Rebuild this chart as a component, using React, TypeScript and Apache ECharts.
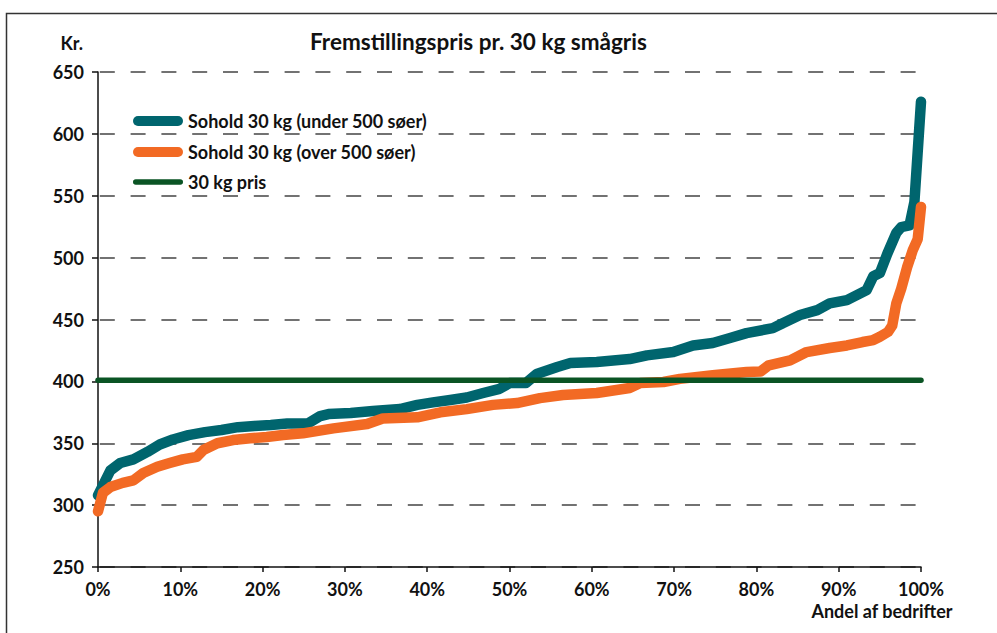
import React, { useEffect, useRef } from "react";
import * as echarts from "echarts";

const titleText = "Fremstillingspris pr. 30 kg smågris";
const yUnit = "Kr.";
const xName = "Andel af bedrifter";
const seriesNames = ["Sohold 30 kg (under 500 søer)", "Sohold 30 kg (over 500 søer)", "30 kg pris"];

// Share of farms (%) and cost (kr.) for farms under 500 sows
const underPct = [0, 1.5, 2.7, 4.3, 6, 7.5, 9.1, 11, 13, 15, 17, 19, 21, 23, 25.5, 27, 28, 30.7, 33.4, 36.7, 38.8, 40.7, 42.8, 44.8, 46.8, 48.8, 50, 52, 53.3, 55.8, 57.4, 60.6, 64.6, 66.7, 69.9, 72.3, 74.7, 76.8, 78.8, 82, 83.2, 85.3, 87.4, 88.9, 91, 92.2, 93.4, 94.2, 95, 95.9, 97, 97.6, 98.6, 99.2, 100];
const underVal = [308, 328, 334, 337, 343, 349, 353, 356.6, 359, 360.7, 363, 364, 364.7, 366, 366, 372, 373.6, 374.5, 376, 377.6, 381, 383, 385, 387, 390.6, 394, 398.6, 398.6, 406, 411.6, 414.8, 415.6, 418, 421, 423.7, 429, 431, 435, 439, 443, 447, 453.6, 457.6, 463, 465.7, 469.7, 473.8, 485, 487.5, 503, 520, 524.7, 526, 545, 626];

// Share of farms (%) and cost (kr.) for farms over 500 sows
const overPct = [0, 0.6, 1.5, 3, 4.3, 5.5, 7.2, 8.7, 10.3, 12, 12.8, 14.5, 16.4, 18.5, 20.5, 22.5, 24.9, 28.6, 32.7, 34.6, 38.8, 41.6, 44.8, 48, 50.9, 53.7, 56.5, 60.6, 64.6, 65.9, 68.7, 70.7, 74.7, 78.8, 80.5, 81.5, 84.1, 86.1, 88.9, 91, 92.9, 94.2, 95, 96, 96.5, 97, 97.6, 98.3, 99, 99.6, 100];
const overVal = [295, 310, 314.6, 318, 320, 326, 331, 334, 337, 339, 344.5, 350, 352.6, 354, 355, 356.6, 358, 362, 365.5, 370, 371, 375, 377.6, 381, 382.5, 386.5, 389, 390.6, 394.6, 398.6, 399.5, 402, 405, 407.5, 408, 413, 417, 423.7, 427, 429, 431.8, 433.4, 436, 440, 445, 463, 475, 492, 506, 515, 541];

// 30 kg price
const pricePct = [0, 100];
const priceVal = [401, 401];

const yTicks = [250, 300, 350, 400, 450, 500, 550, 600, 650];
const xTicks = [0, 10, 20, 30, 40, 50, 60, 70, 80, 90, 100];

const colors = ["#00656e", "#f26a24", "#0a5424"];
const FONT = "Lato";

function zip(xs: number[], ys: number[]) {
  return xs.map((x, i) => [x, ys[i]]);
}

export default function App() {
  const ref = useRef<HTMLDivElement>(null);
  useEffect(() => {
    if (!ref.current) return;
    const chart = echarts.init(ref.current, undefined, { renderer: "svg" });
    const txt = { color: "#111", fontFamily: FONT, fontSize: 18, fontWeight: "bold" as const };
    const pill = "path://M5,0 L45,0 A5,5 0 0 1 45,10 L5,10 A5,5 0 0 1 5,0 Z";
    const thin = "path://M2.75,0 L47.25,0 A2.75,2.75 0 0 1 47.25,5.5 L2.75,5.5 A2.75,2.75 0 0 1 2.75,0 Z";
    const legendBase = {
      left: 133,
      orient: "vertical" as const,
      itemWidth: 50,
      textStyle: { ...txt, fontSize: 18 },
      selectedMode: false,
      padding: 0,
    };
    chart.setOption({
      animation: false,
      backgroundColor: "#fff",
      title: {
        text: titleText,
        left: 310,
        top: 30,
        textStyle: { ...txt, fontSize: 22.5 },
        padding: 0,
      },
      legend: [
        { ...legendBase, top: 112, itemHeight: 10, icon: pill, data: [seriesNames[0]] },
        { ...legendBase, top: 143, itemHeight: 10, icon: pill, data: [seriesNames[1]] },
        { ...legendBase, top: 173, itemHeight: 5.5, icon: thin, data: [seriesNames[2]] },
      ],
      grid: { left: 98, right: 76, top: 72, bottom: 66, containLabel: false },
      xAxis: {
        type: "value",
        min: 0,
        max: 100,
        interval: 10,
        axisLine: { show: true, onZero: false, lineStyle: { color: "#111", width: 1.5 } },
        axisTick: { show: true, length: 5, lineStyle: { color: "#111", width: 1.5 } },
        splitLine: { show: false },
        axisLabel: {
          ...txt,
          margin: 13,
          formatter: (v: number) => (xTicks.includes(v) ? v + "%" : ""),
        },
      },
      yAxis: {
        type: "value",
        min: 250,
        max: 650,
        interval: 50,
        axisLine: { show: true, lineStyle: { color: "#111", width: 1.5 } },
        axisTick: { show: true, length: 6, lineStyle: { color: "#111", width: 1.5 } },
        splitLine: {
          show: true,
          lineStyle: { color: "#444", width: 1.5, type: [15, 15.8], dashOffset: 28.8 },
        },
        axisLabel: {
          ...txt,
          margin: 14,
          formatter: (v: number) => (yTicks.includes(v) ? String(v) : ""),
        },
      },
      graphic: [
        {
          type: "rect",
          shape: { x: 6.5, y: 13.5, width: 1100, height: 800 },
          style: { fill: "none", stroke: "#333", lineWidth: 1.5 },
          silent: true,
          z: -1,
        },
        {
          type: "text",
          x: 83,
          y: 43,
          style: { text: yUnit, ...txt, fill: "#111", align: "right", verticalAlign: "middle" },
        },
        {
          type: "text",
          x: 882,
          y: 611,
          style: { text: xName, ...txt, fill: "#111", align: "center", verticalAlign: "middle" },
        },
      ],
      series: [
        {
          name: seriesNames[0],
          type: "line",
          data: zip(underPct, underVal),
          showSymbol: false,
          symbol: "none",
          color: colors[0],
          lineStyle: { width: 10.5, color: colors[0], cap: "round", join: "round" },
          z: 2,
        },
        {
          name: seriesNames[1],
          type: "line",
          data: zip(overPct, overVal),
          showSymbol: false,
          symbol: "none",
          color: colors[1],
          lineStyle: { width: 10.5, color: colors[1], cap: "round", join: "round" },
          z: 3,
        },
        {
          name: seriesNames[2],
          type: "line",
          data: zip(pricePct, priceVal),
          showSymbol: false,
          symbol: "none",
          color: colors[2],
          lineStyle: { width: 5.5, color: colors[2], cap: "round" },
          z: 4,
        },
      ],
    });
    return () => chart.dispose();
  }, []);
  return (
    <div
      ref={ref}
      style={{ position: "fixed", left: 0, top: 0, width: 997, height: 633, background: "#fff" }}
    />
  );
}
